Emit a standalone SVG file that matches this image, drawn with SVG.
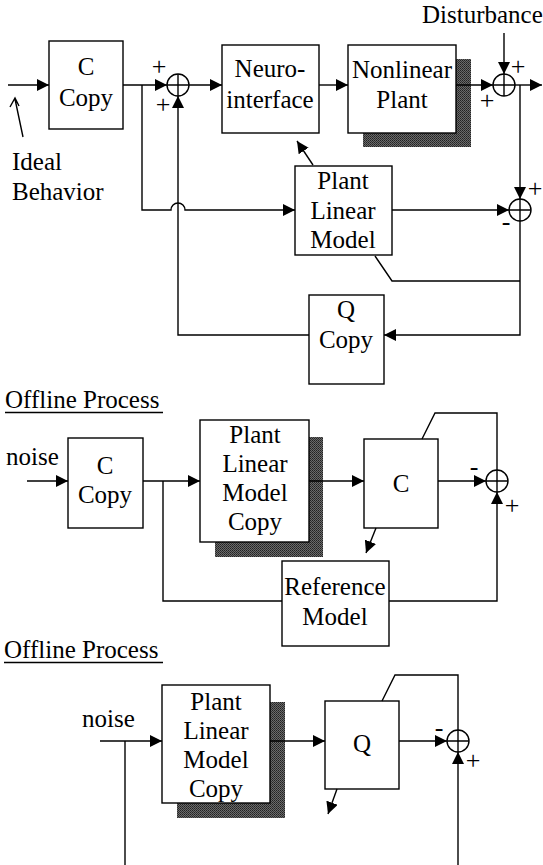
<svg xmlns="http://www.w3.org/2000/svg" width="543" height="865" viewBox="0 0 543 865">
  <defs>
    <marker id="arr" markerUnits="userSpaceOnUse" markerWidth="12" markerHeight="12" refX="12" refY="6" orient="auto">
      <path d="M0,0 L12,6 L0,12 z" fill="#000"/>
    </marker>
    <pattern id="dither" width="2" height="2" patternUnits="userSpaceOnUse">
      <rect width="2" height="2" fill="#6a6a6a"/>
      <rect width="1" height="1" fill="#222"/>
      <rect x="1" y="1" width="1" height="1" fill="#333"/>
    </pattern>
  </defs>
  <style>
    .t { font-family: Times New Roman, Times, Liberation Serif, Noto Serif, DejaVu Serif, serif; font-size: 25px; fill: #000; }
    .c { text-anchor: middle; }
    .sign { font-size: 26px; text-anchor: middle; }
    .box { fill: #fff; stroke: #000; stroke-width: 1.4; }
    .shadow { fill: url(#dither); }
    .sum { fill: #fff; stroke: #000; stroke-width: 1.4; }
    .wire { fill: none; stroke: #000; stroke-width: 1.4; }
    .arrow { marker-end: url(#arr); }
  </style>
  <rect width="543" height="865" fill="#fff"/>

  <!-- ===== main loop ===== -->
  <g id="c-copy" class="t">
    <rect class="box" x="49" y="41" width="74" height="88"/>
    <text class="c" x="86" y="75">C</text>
    <text class="c" x="86" y="106">Copy</text>
  </g>
  <g id="neuro-interface" class="t">
    <rect class="box" x="222" y="45" width="97" height="88"/>
    <text class="c" x="270" y="77">Neuro-</text>
    <text class="c" x="270" y="108">interface</text>
  </g>
  <g id="nonlinear-plant" class="t">
    <rect class="shadow" x="363" y="59" width="108" height="88"/>
    <rect class="box" x="348" y="45" width="108" height="88"/>
    <text class="c" x="402" y="78">Nonlinear</text>
    <text class="c" x="402" y="108">Plant</text>
  </g>
  <g id="plant-linear-model" class="t">
    <rect class="box" x="295" y="166" width="97" height="89"/>
    <text class="c" x="343" y="189">Plant</text>
    <text class="c" x="343" y="219">Linear</text>
    <text class="c" x="343" y="248">Model</text>
  </g>
  <g id="q-copy" class="t">
    <rect class="box" x="309" y="295" width="75" height="89"/>
    <text class="c" x="346" y="318">Q</text>
    <text class="c" x="346" y="348">Copy</text>
  </g>
  <g id="sum1">
    <circle class="sum" cx="178" cy="85" r="11"/>
    <path class="wire" d="M167,85 H189 M178,74 V96"/>
  </g>
  <g id="sum2">
    <circle class="sum" cx="504" cy="85" r="11"/>
    <path class="wire" d="M493,85 H515 M504,74 V96"/>
  </g>
  <g id="sum3">
    <circle class="sum" cx="520" cy="210" r="11"/>
    <path class="wire" d="M509,210 H531 M520,199 V221"/>
  </g>
  <g id="labels-top" class="t">
    <text x="12" y="170">Ideal</text>
    <text x="12" y="200">Behavior</text>
    <text x="422" y="23">Disturbance</text>
    <text class="sign" x="159" y="75">+</text>
    <text class="sign" x="163" y="113">+</text>
    <text class="sign" x="487" y="109">+</text>
    <text class="sign" x="518" y="75">+</text>
    <text class="sign" x="535" y="197">+</text>
    <text class="sign" x="506" y="230">-</text>
  </g>

  <!-- ===== offline process: C ===== -->
  <g id="offline-title-1" class="t">
    <text x="5" y="408">Offline Process</text>
    <line class="wire" x1="5" y1="412.5" x2="163" y2="412.5"/>
  </g>
  <g id="c-copy-2" class="t">
    <rect class="box" x="68" y="438" width="75" height="90"/>
    <text class="c" x="105" y="474">C</text>
    <text class="c" x="105" y="503">Copy</text>
  </g>
  <g id="plant-linear-model-copy-1" class="t">
    <rect class="shadow" x="215" y="437" width="108" height="120"/>
    <rect class="box" x="200" y="420" width="109" height="122"/>
    <text class="c" x="255" y="443">Plant</text>
    <text class="c" x="255" y="472">Linear</text>
    <text class="c" x="255" y="501">Model</text>
    <text class="c" x="255" y="530">Copy</text>
  </g>
  <g id="c-block" class="t">
    <rect class="box" x="364" y="439" width="74" height="89"/>
    <text class="c" x="401" y="492">C</text>
  </g>
  <g id="reference-model" class="t">
    <rect class="box" x="282" y="561" width="107" height="85"/>
    <text class="c" x="335" y="595">Reference</text>
    <text class="c" x="335" y="625">Model</text>
  </g>
  <g id="sum4">
    <circle class="sum" cx="497" cy="481" r="11"/>
    <path class="wire" d="M486,481 H508 M497,470 V492"/>
  </g>
  <g id="labels-mid" class="t">
    <text x="6" y="465">noise</text>
    <text class="sign" x="474" y="475">-</text>
    <text class="sign" x="512" y="514">+</text>
  </g>

  <!-- ===== offline process: Q ===== -->
  <g id="offline-title-2" class="t">
    <text x="4" y="658">Offline Process</text>
    <line class="wire" x1="4" y1="662.5" x2="163" y2="662.5"/>
  </g>
  <g id="plant-linear-model-copy-2" class="t">
    <rect class="shadow" x="177" y="702" width="108" height="116"/>
    <rect class="box" x="162" y="685" width="108" height="118"/>
    <text class="c" x="216" y="710">Plant</text>
    <text class="c" x="216" y="739">Linear</text>
    <text class="c" x="216" y="768">Model</text>
    <text class="c" x="216" y="797">Copy</text>
  </g>
  <g id="q-block" class="t">
    <rect class="box" x="325" y="701" width="74" height="88"/>
    <text class="c" x="362" y="752">Q</text>
  </g>
  <g id="sum5">
    <circle class="sum" cx="458" cy="741" r="11"/>
    <path class="wire" d="M447,741 H469 M458,730 V752"/>
  </g>
  <g id="labels-bottom" class="t">
    <text x="82" y="727">noise</text>
    <text class="sign" x="439" y="736">-</text>
    <text class="sign" x="473" y="769">+</text>
  </g>

  <!-- ===== connectors ===== -->
  <g id="connectors">
    <!-- main loop -->
    <path class="wire arrow" d="M8,85 H49"/>
    <path class="wire" d="M15,99 L23,137 M10,107 L15,98 L19,106"/>
    <path class="wire arrow" d="M123,85 H167"/>
    <path class="wire arrow" d="M142,85 V210 H171 A7,7 0 0 1 185,210 H295"/>
    <path class="wire arrow" d="M309,335 H178 V96"/>
    <path class="wire arrow" d="M189,85 H222"/>
    <path class="wire arrow" d="M319,85 H348"/>
    <path class="wire arrow" d="M456,85 H493"/>
    <path class="wire arrow" d="M504,33 V74"/>
    <path class="wire arrow" d="M515,85 H542"/>
    <path class="wire arrow" d="M520,85 V199"/>
    <path class="wire arrow" d="M392,210 H509"/>
    <path class="wire" d="M375,256 L392,281 H520"/>
    <path class="wire arrow" d="M520,221 V335 H384"/>
    <path class="wire arrow" d="M313,165 L297,141"/>

    <!-- offline C -->
    <path class="wire arrow" d="M27,481 H68"/>
    <path class="wire arrow" d="M143,481 H200"/>
    <path class="wire" d="M163,481 V601 H282"/>
    <path class="wire arrow" d="M309,481 H364"/>
    <path class="wire arrow" d="M438,481 H486"/>
    <path class="wire" d="M422,439 L435,413 H497 V470"/>
    <path class="wire arrow" d="M376,528 L366,553"/>
    <path class="wire arrow" d="M389,601 H497 V492"/>

    <!-- offline Q -->
    <path class="wire arrow" d="M100,741 H162"/>
    <path class="wire" d="M125,741 V865"/>
    <path class="wire arrow" d="M270,741 H325"/>
    <path class="wire arrow" d="M399,741 H447"/>
    <path class="wire" d="M382,701 L395,675 H458 V730"/>
    <path class="wire arrow" d="M337,789 L328,814"/>
    <path class="wire arrow" d="M458,865 V752"/>
  </g>
</svg>
